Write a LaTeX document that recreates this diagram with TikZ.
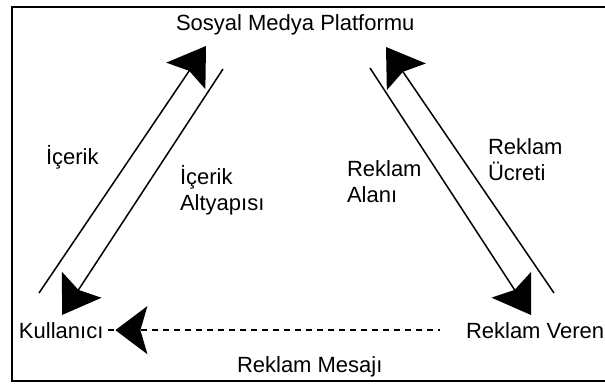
\documentclass[tikz,border=0pt]{standalone}
\usepackage{fontspec}
\setmainfont{Liberation Sans}
\usetikzlibrary{arrows.meta,decorations.markings}
\begin{document}
\begin{tikzpicture}[x=1pt,y=-1pt,
  lbl/.style={inner sep=0pt, outer sep=0pt, align=left,
    font=\fontsize{22}{25.5}\selectfont},
  bigtip/.tip={Stealth[length=36pt,width=47pt,inset=6pt]},
  flow/.style={line width=1.5pt, -bigtip},
  frameline/.style={line width=2pt},
  msgline/.style={line width=1.8pt, dash pattern=on 6pt off 5pt,
    dash phase=4.3pt,
    shorten <=26pt, shorten >=5pt,
    postaction={decorate},
    decoration={markings,
      mark=at position -12pt with {\arrow{Stealth[length=32pt,width=48pt,inset=7pt]}}}}
]
\useasboundingbox (0,0) rectangle (605,383);

% open frame (right side runs off the page)
\draw[frameline] (607,7) -- (11.5,7) -- (11.5,381) -- (607,381);

% actors
\node[lbl, anchor=base west] (plat) at (176,30) {Sosyal Medya Platformu};
\node[lbl, anchor=base west] (k)    at (19,338)  {Kullanıcı};
\node[lbl, anchor=base west] (rv)   at (466,338) {Reklam Veren};

% flow labels (base anchor sits on the last line)
\node[lbl, anchor=base west] (msg) at (237,372) {Reklam Mesajı};
\node[lbl, anchor=base west] (l1)  at (46,164)  {İçerik};
\node[lbl, anchor=base west] (l2)  at (180,210) {İçerik\\Altyapısı};
\node[lbl, anchor=base west] (l3)  at (347,202) {Reklam\\Alanı};
\node[lbl, anchor=base west] (l4)  at (488,180) {Reklam\\Ücreti};

% ends of the diagonal flows
\coordinate (c1s) at (39,293);  \coordinate (c1e) at (206,46);
\coordinate (c2s) at (223,69);  \coordinate (c2e) at (62,315);
\coordinate (c3s) at (370,68);  \coordinate (c3e) at (531,315);
\coordinate (c4s) at (554,293); \coordinate (c4e) at (386,47);

\draw[flow] (c1s) -- (c1e);
\draw[flow] (c2s) -- (c2e);
\draw[flow] (c3s) -- (c3e);
\draw[flow] (c4s) -- (c4e);

% advertising message, dashed
\draw[msgline] (rv.west) -- (k.east);
\end{tikzpicture}
\end{document}
